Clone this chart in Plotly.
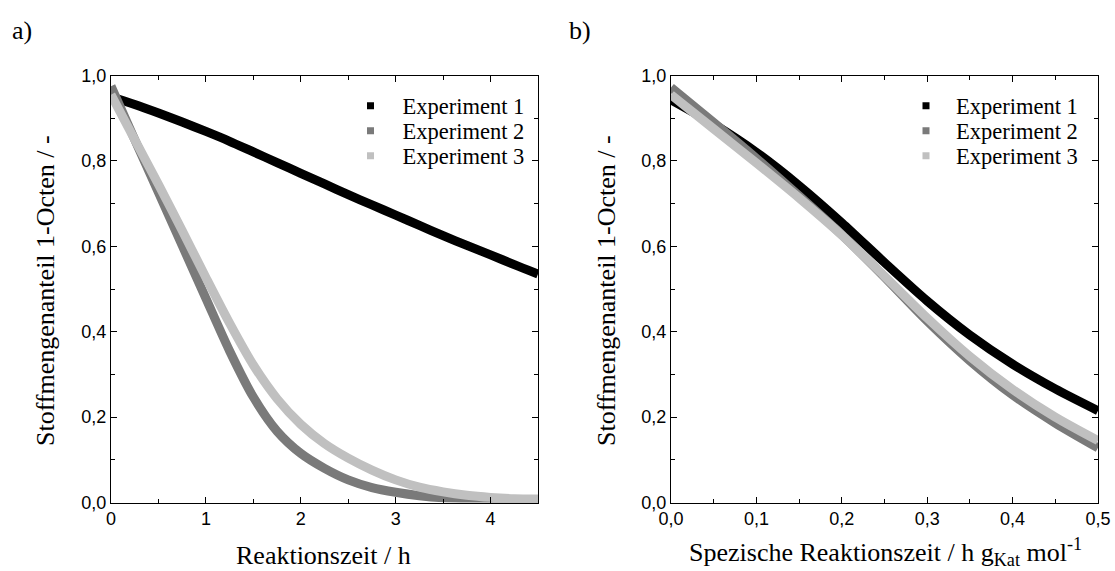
import plotly.graph_objects as go

# Panel a: mole fraction of 1-octene over reaction time (h)
t_h = [0, 0.25, 0.5, 0.75, 1.0, 1.25, 1.5, 1.75, 2.0, 2.25, 2.5, 2.75,
       3.0, 3.25, 3.5, 3.75, 4.0, 4.25, 4.5]
a_exp1 = [0.950, 0.932, 0.912, 0.891, 0.869, 0.846, 0.821, 0.796, 0.771,
          0.746, 0.721, 0.697, 0.673, 0.649, 0.625, 0.602, 0.580, 0.557, 0.535]
a_exp2 = [0.975, 0.850, 0.726, 0.602, 0.478, 0.355, 0.247, 0.167, 0.115,
          0.080, 0.053, 0.035, 0.024, 0.016, 0.011, 0.009, 0.008, 0.007, 0.007]
a_exp3 = [0.955, 0.850, 0.745, 0.637, 0.527, 0.420, 0.322, 0.243, 0.183,
          0.138, 0.104, 0.076, 0.053, 0.036, 0.025, 0.017, 0.012, 0.009, 0.008]

# Panel b: mole fraction over specific reaction time (h g_Kat / mol)
s_spec = [0, 0.05, 0.10, 0.15, 0.20, 0.25, 0.30, 0.35, 0.40, 0.45, 0.50]
b_exp1 = [0.943, 0.886, 0.820, 0.742, 0.655, 0.562, 0.472, 0.392, 0.324, 0.266, 0.215]
b_exp2 = [0.972, 0.890, 0.806, 0.718, 0.627, 0.528, 0.425, 0.332, 0.252, 0.186, 0.128]
b_exp3 = [0.955, 0.875, 0.795, 0.713, 0.626, 0.530, 0.432, 0.342, 0.265, 0.200, 0.145]

names = ["Experiment 1", "Experiment 2", "Experiment 3"]
colors = ["#000000", "#7a7a7a", "#c0c0c0"]

SERIF = "Liberation Serif, Times New Roman, serif"
SANS = "Liberation Sans, Arial, sans-serif"

W, H = 1115, 571
fig = go.Figure()

panels = [
    ("x", "y", t_h, [a_exp1, a_exp2, a_exp3]),
    ("x2", "y2", s_spec, [b_exp1, b_exp2, b_exp3]),
]
for xa, ya, xs, series in panels:
    for name, col, ys in zip(names, colors, series):
        fig.add_trace(go.Scatter(
            x=xs, y=ys, xaxis=xa, yaxis=ya, mode="lines", name=name,
            line=dict(color=col, width=9, shape="spline", smoothing=0.8),
            showlegend=False, hoverinfo="skip"))

# One legend per row so the entries sit at fixed spacing
legend_rows_y = [106, 131, 156]
legend_cols = [(338.5, 54), (896, 50)]
legend_defs = {}
k = 0
for panel, (lx, iw) in enumerate(legend_cols):
    for row, (name, col) in enumerate(zip(names, colors)):
        k += 1
        key = "legend" if k == 1 else f"legend{k}"
        legend_defs[key] = dict(
            x=lx / W, y=1 - legend_rows_y[row] / H, xanchor="left", yanchor="middle",
            bgcolor="rgba(0,0,0,0)", borderwidth=0, itemwidth=iw,
            font=dict(family=SERIF, size=22.5, color="#000"))
        fig.add_trace(go.Scatter(
            x=[None], y=[None], xaxis="x" if panel == 0 else "x2",
            yaxis="y" if panel == 0 else "y2", mode="markers", name=name,
            marker=dict(symbol="square", size=7, color=col),
            legend=key, showlegend=True))

x_dom_a = [111 / W, 538 / W]
x_dom_b = [671 / W, 1098 / W]
y_dom = [1 - 502.5 / H, 1 - 75.5 / H]

def axis_style(**kw):
    base = dict(
        showline=True, linecolor="#000", linewidth=1, mirror="ticks",
        ticks="inside", ticklen=6, tickwidth=1, tickcolor="#000",
        showgrid=False, zeroline=False, automargin=False,
        tickfont=dict(family=SANS, size=18, color="#000"),
    )
    base.update(kw)
    return base

layout = dict(
    width=W, height=H, margin=dict(l=0, r=0, t=0, b=0, autoexpand=False),
    paper_bgcolor="white", plot_bgcolor="white", separators=",.",
    xaxis=axis_style(domain=x_dom_a, anchor="y", range=[0, 4.5], dtick=1, tick0=0,
                     minor=dict(ticks="inside", ticklen=4, dtick=0.5, tickcolor="#000")),
    yaxis=axis_style(domain=y_dom, anchor="x", range=[0, 1.0], dtick=0.2, tickformat=".1f",
                     minor=dict(ticks="inside", ticklen=4, dtick=0.1, tickcolor="#000")),
    xaxis2=axis_style(domain=x_dom_b, anchor="y2", range=[0, 0.5], dtick=0.1, tickformat=".1f",
                      minor=dict(ticks="inside", ticklen=4, dtick=0.05, tickcolor="#000")),
    yaxis2=axis_style(domain=y_dom, anchor="x2", range=[0, 1.0], dtick=0.2, tickformat=".1f",
                      minor=dict(ticks="inside", ticklen=4, dtick=0.1, tickcolor="#000")),
    showlegend=True,
)
layout.update(legend_defs)
fig.update_layout(**layout)

ann_font = dict(family=SERIF, size=26, color="#000")
annotations = [
    dict(text="a)", x=22 / W, y=1 - 30 / H),
    dict(text="b)", x=580 / W, y=1 - 30 / H),
    dict(text="Reaktionszeit / h", x=324 / W, y=1 - 555 / H),
    dict(text="Spezische Reaktionszeit / h g<sub>Kat</sub> mol<sup>-1</sup>", x=885 / W, y=1 - 552 / H),
    dict(text="Stoffmengenanteil 1-Octen / -", x=45 / W, y=1 - 291 / H, textangle=-90),
    dict(text="Stoffmengenanteil 1-Octen / -", x=606 / W, y=1 - 291 / H, textangle=-90),
]
for a in annotations:
    fig.add_annotation(xref="paper", yref="paper", showarrow=False,
                       xanchor="center", yanchor="middle", font=ann_font, **a)

fig.write_html("out.html")
